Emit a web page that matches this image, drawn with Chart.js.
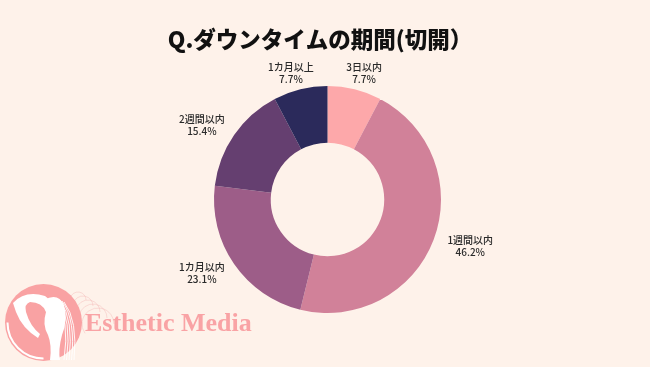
<!DOCTYPE html>
<html>
<head>
<meta charset="utf-8">
<script src="https://cdn.jsdelivr.net/npm/chart.js@4.4.1/dist/chart.umd.min.js"></script>
<style>
html,body{margin:0;padding:0;background:#FEF2EA;}
#wrap{width:650px;height:367px;position:relative;}
</style>
</head>
<body>
<div id="wrap"><canvas id="c" width="650" height="367"></canvas></div>
<script>
const titleText = 'Q.ダウンタイムの期間(切開）';
const categories = ['3日以内', '1週間以内', '1カ月以内', '2週間以内', '1カ月以上'];
const percentValues = [7.7, 46.2, 23.1, 15.4, 7.7];
const sliceColors = ['#FDA8AA', '#D18199', '#9D5D88', '#653F70', '#2B2A5B'];

const bgPlugin = {
  id: 'bg',
  beforeDraw(chart) {
    const ctx = chart.ctx;
    ctx.save();
    ctx.fillStyle = '#FEF2EA';
    ctx.fillRect(0, 0, chart.width, chart.height);
    // decorative swirls
    ctx.strokeStyle = 'rgba(240,170,170,0.35)';
    ctx.lineWidth = 1;
    for (let i = 0; i < 5; i++) {
      ctx.beginPath();
      ctx.arc(78 + i * 5, 300 + i * 6, 8 + i * 2, Math.PI * 0.8, Math.PI * 2.0);
      ctx.stroke();
    }
    // logo circle
    const cx = 43.5, cy = 322.5, r = 38.5;
    ctx.fillStyle = '#F9A2A3';
    ctx.beginPath(); ctx.arc(cx, cy, r, 0, Math.PI * 2); ctx.fill();
    ctx.strokeStyle = '#FFFFFF';
    ctx.lineWidth = 2;
    ctx.beginPath(); ctx.arc(cx, cy, r - 2.5, Math.PI * 0.5, Math.PI * 1.0); ctx.stroke();
    // figure: raised arm
    ctx.fillStyle = '#FFFFFF';
    ctx.beginPath();
    ctx.moveTo(13, 303);
    ctx.quadraticCurveTo(25, 290, 45, 296);
    ctx.quadraticCurveTo(52, 300, 50, 310);
    ctx.lineTo(46, 312);
    ctx.quadraticCurveTo(42, 302, 30, 302);
    ctx.quadraticCurveTo(24, 304, 26, 312);
    ctx.quadraticCurveTo(30, 326, 40, 334);
    ctx.lineTo(38, 338);
    ctx.quadraticCurveTo(22, 328, 16, 312);
    ctx.closePath();
    ctx.fill();
    // head & body
    ctx.beginPath();
    ctx.moveTo(44, 300);
    ctx.quadraticCurveTo(58, 292, 64, 305);
    ctx.quadraticCurveTo(68, 320, 62, 335);
    ctx.quadraticCurveTo(58, 350, 60, 360);
    ctx.lineTo(50, 360);
    ctx.quadraticCurveTo(52, 345, 48, 335);
    ctx.quadraticCurveTo(42, 325, 46, 312);
    ctx.closePath();
    ctx.fill();
    // hair strands
    ctx.strokeStyle = 'rgba(255,255,255,0.9)';
    ctx.lineWidth = 1;
    for (let i = 0; i < 5; i++) {
      ctx.beginPath();
      ctx.moveTo(56 + i * 2, 298 + i);
      ctx.quadraticCurveTo(70 + i * 2, 320, 64 + i * 2.5, 360);
      ctx.stroke();
    }
    ctx.fillStyle = '#F9A3A5';
    ctx.font = 'bold 26px "Liberation Serif", "DejaVu Serif", serif';
    ctx.textAlign = 'left';
    ctx.textBaseline = 'alphabetic';
    ctx.fillText('Esthetic Media', 85, 331);
    ctx.restore();
  }
};

const labelPlugin = {
  id: 'sliceLabels',
  afterDatasetsDraw(chart) {
    const ctx = chart.ctx;
    const meta = chart.getDatasetMeta(0);
    ctx.save();
    ctx.fillStyle = '#2A2A2A';
    ctx.font = '500 10px "Noto Sans CJK JP", "Noto Sans", sans-serif';
    ctx.textAlign = 'center';
    ctx.textBaseline = 'middle';
    meta.data.forEach((arc, i) => {
      const p = arc.getProps(['x', 'y', 'startAngle', 'endAngle', 'outerRadius'], true);
      const mid = (p.startAngle + p.endAngle) / 2;
      const lx = p.x + p.outerRadius * 1.345 * Math.cos(mid);
      const ly = p.y + p.outerRadius * 1.15 * Math.sin(mid);
      ctx.fillText(categories[i], lx, ly - 6);
      ctx.fillText(percentValues[i].toFixed(1) + '%', lx, ly + 6);
    });
    // title
    ctx.fillStyle = '#111111';
    ctx.font = '900 22.5px "Noto Sans CJK JP", sans-serif';
    ctx.fillText(titleText, 320, 39);
    ctx.restore();
  }
};

new Chart(document.getElementById('c'), {
  type: 'doughnut',
  data: {
    labels: categories,
    datasets: [{
      data: percentValues,
      backgroundColor: sliceColors,
      borderWidth: 0
    }]
  },
  options: {
    responsive: false,
    animation: false,
    cutout: '50%',
    layout: { padding: { top: 86, bottom: 54, left: 100, right: 95 } },
    plugins: { legend: { display: false }, tooltip: { enabled: false }, title: { display: false } }
  },
  plugins: [bgPlugin, labelPlugin]
});
</script>
</body>
</html>
